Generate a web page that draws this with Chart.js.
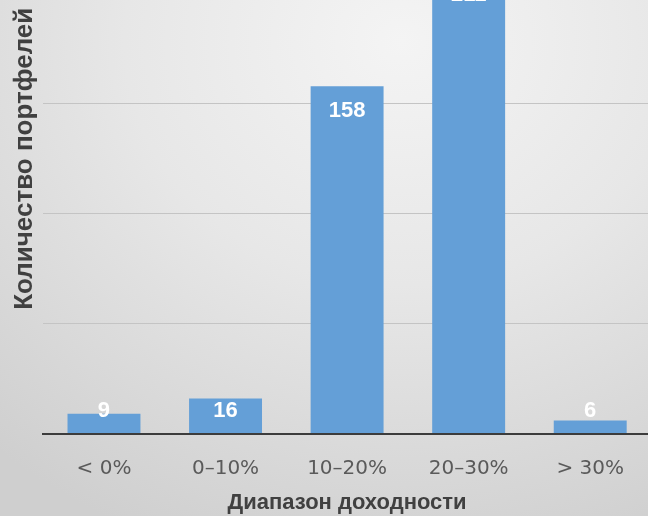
<!DOCTYPE html>
<html lang="ru">
<head>
    <meta charset="UTF-8">
    <title>Диапазон доходности</title>
    <script src="https://cdn.jsdelivr.net/npm/chart.js@4.4.0/dist/chart.umd.min.js"></script>
    <style>
        html, body { margin: 0; padding: 0; width: 648px; height: 516px; overflow: hidden; }
        body {
            position: relative;
            background: radial-gradient(ellipse 95% 105% at 62% 8%, #f4f4f4 0%, #e7e7e7 45%, #cfcfcf 100%);
        }
        /* the source picture is a crop of a bigger chart: the plot runs past the top and right edges */
        #wrap { position: absolute; left: 0; top: -116px; width: 651px; height: 632px; }
    </style>
</head>
<body>
    <div id="wrap"><canvas id="chart"></canvas></div>
    <script>
        const categories = ['< 0%', '0–10%', '10–20%', '20–30%', '> 30%'];
        const portfolios = [9, 16, 158, 211, 6];
        const yTicks = [0, 50, 100, 150, 200, 250];

        // value labels: inside the top of the bar, but kept above the axis for short bars
        const barLabels = {
            id: 'barLabels',
            afterDatasetsDraw(chart) {
                const ctx = chart.ctx;
                const meta = chart.getDatasetMeta(0);
                ctx.save();
                ctx.fillStyle = '#ffffff';
                ctx.font = 'bold 22px "Liberation Sans", Arial, sans-serif';
                ctx.textAlign = 'center';
                ctx.textBaseline = 'middle';
                meta.data.forEach((bar, i) => {
                    const y = Math.min(bar.y + 25, bar.base - 22);
                    ctx.fillText(String(portfolios[i]), bar.x, y);
                });
                ctx.restore();
            }
        };

        new Chart(document.getElementById('chart'), {
            type: 'bar',
            data: {
                labels: categories,
                datasets: [{
                    data: portfolios,
                    backgroundColor: '#649fd7',
                    borderWidth: 0,
                    barPercentage: 0.6,
                    categoryPercentage: 1.0
                }]
            },
            options: {
                responsive: true,
                maintainAspectRatio: false,
                animation: false,
                layout: { padding: 0 },
                plugins: {
                    legend: { display: false },
                    tooltip: { enabled: false }
                },
                scales: {
                    x: {
                        z: 1,
                        grid: { display: false, drawTicks: false },
                        border: { display: true, color: '#3c3c3c', width: 2 },
                        ticks: {
                            padding: 23,
                            color: '#5a5a5a',
                            font: { family: '"DejaVu Sans", sans-serif', size: 20 }
                        },
                        title: {
                            display: true,
                            text: 'Диапазон доходности',
                            color: '#404040',
                            // tick padding is counted twice in the axis height, take it back here
                            padding: { top: -14, bottom: 0 },
                            font: { family: '"Liberation Sans", Arial, sans-serif', size: 22, weight: 'bold' }
                        }
                    },
                    y: {
                        min: 0,
                        max: 250,
                        afterBuildTicks(scale) {
                            scale.ticks = yTicks.map(v => ({ value: v }));
                        },
                        grid: { color: '#c4c4c4', lineWidth: 1, drawTicks: false },
                        border: { display: false },
                        ticks: { display: false },
                        title: {
                            display: true,
                            text: 'Количество портфелей',
                            color: '#404040',
                            padding: { top: 9, bottom: 3 },
                            font: { family: '"Liberation Sans", Arial, sans-serif', size: 26, weight: 'bold' }
                        }
                    }
                }
            },
            plugins: [barLabels]
        });
    </script>
</body>
</html>
